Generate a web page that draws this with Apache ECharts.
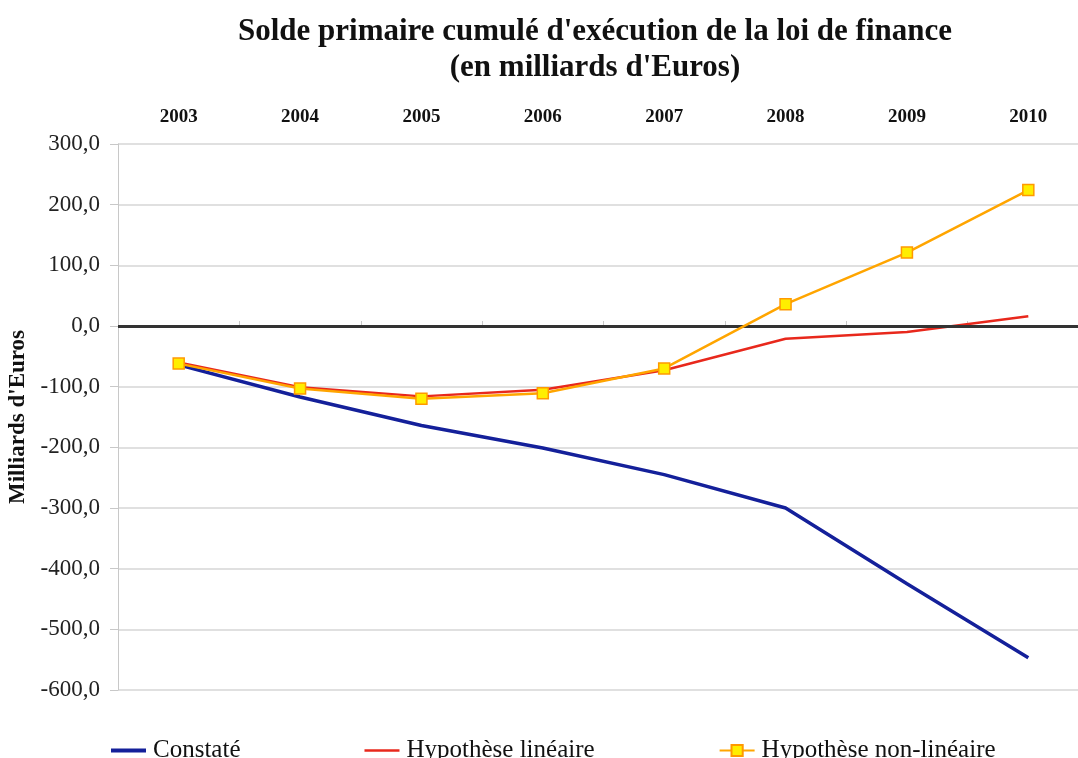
<!DOCTYPE html>
<html>
<head>
<meta charset="utf-8">
<script src="https://cdn.jsdelivr.net/npm/echarts@6/dist/echarts.min.js"></script>
<style>
  html, body { margin: 0; padding: 0; background: #fff; }
  #main { width: 1078px; height: 758px; }
</style>
</head>
<body>
<div id="main"></div>
<script>
var annees = ['2003', '2004', '2005', '2006', '2007', '2008', '2009', '2010'];
var constate = [-64, -117, -164, -201, -245, -300, -425, -547];
var lineaire = [-60, -101, -116, -105, -73, -21, -10, 16];
var nonLineaire = [-62, -103, -120, -111, -70, 36, 121, 224];

var police = '"Liberation Serif", "Times New Roman", serif';
// icone de legende : simple trait horizontal
var trait = 'path://M0,0H35V4H0Z';

var chart = echarts.init(document.getElementById('main'));
var option = {
  animation: false,
  title: {
    text: "Solde primaire cumulé d'exécution de la loi de finance\n(en milliards d'Euros)",
    left: 590,
    textAlign: 'center',
    top: 9,
    textStyle: {
      fontFamily: police,
      fontSize: 31,
      fontWeight: 'bold',
      color: '#111',
      lineHeight: 36
    }
  },
  legend: {
    left: 106,
    top: 733,
    itemWidth: 35,
    itemHeight: 14,
    itemGap: 124,
    textStyle: { fontFamily: police, fontSize: 25, color: '#111', padding: [0, 0, 0, 2] },
    data: [
      { name: 'Constaté', icon: trait },
      { name: 'Hypothèse linéaire', icon: 'path://M0,0H35V2.5H0Z' },
      { name: 'Hypothèse non-linéaire' }
    ]
  },
  grid: { left: 118, right: -11, top: 144, bottom: 68, outerBoundsMode: 'none' },
  xAxis: {
    type: 'category',
    position: 'top',
    data: annees,
    boundaryGap: true,
    axisLine: { lineStyle: { color: '#c8c8c8', width: 1 } },
    axisTick: { show: true, length: 5, lineStyle: { color: '#c8c8c8' } },
    axisLabel: { fontFamily: police, fontSize: 19, fontWeight: 'bold', color: '#111', margin: 17 }
  },
  yAxis: {
    type: 'value',
    min: -600,
    max: 300,
    interval: 100,
    name: "Milliards d'Euros",
    nameLocation: 'middle',
    nameGap: 85,
    nameTextStyle: { fontFamily: police, fontSize: 23, fontWeight: 'bold', color: '#111' },
    axisLine: { show: true, lineStyle: { color: '#c8c8c8', width: 1 } },
    axisTick: { show: true, length: 8, lineStyle: { color: '#c8c8c8' } },
    axisLabel: {
      fontFamily: police, fontSize: 23, color: '#222', margin: 18,
      formatter: function (v) { return v.toFixed(1).replace('.', ','); }
    },
    splitLine: { lineStyle: { color: '#d6d6d6', width: 1.5 } }
  },
  series: [
    {
      name: 'Constaté',
      type: 'line',
      data: constate,
      symbol: 'none',
      lineStyle: { color: '#14209a', width: 3.5 },
      itemStyle: { color: '#14209a' },
      z: 3,
      markLine: {
        silent: true,
        symbol: 'none',
        label: { show: false },
        lineStyle: { color: '#333', width: 3, type: 'solid' },
        data: [{ yAxis: 0 }]
      }
    },
    {
      name: 'Hypothèse linéaire',
      type: 'line',
      data: lineaire,
      symbol: 'none',
      lineStyle: { color: '#e8281c', width: 2.5 },
      itemStyle: { color: '#e8281c' },
      z: 4
    },
    {
      name: 'Hypothèse non-linéaire',
      type: 'line',
      data: nonLineaire,
      symbol: 'rect',
      symbolSize: 11,
      lineStyle: { color: '#ffa500', width: 2.5 },
      itemStyle: { color: '#ffee00', borderColor: '#ff9900', borderWidth: 1.5 },
      z: 5
    }
  ]
};
chart.setOption(option);
</script>
</body>
</html>
